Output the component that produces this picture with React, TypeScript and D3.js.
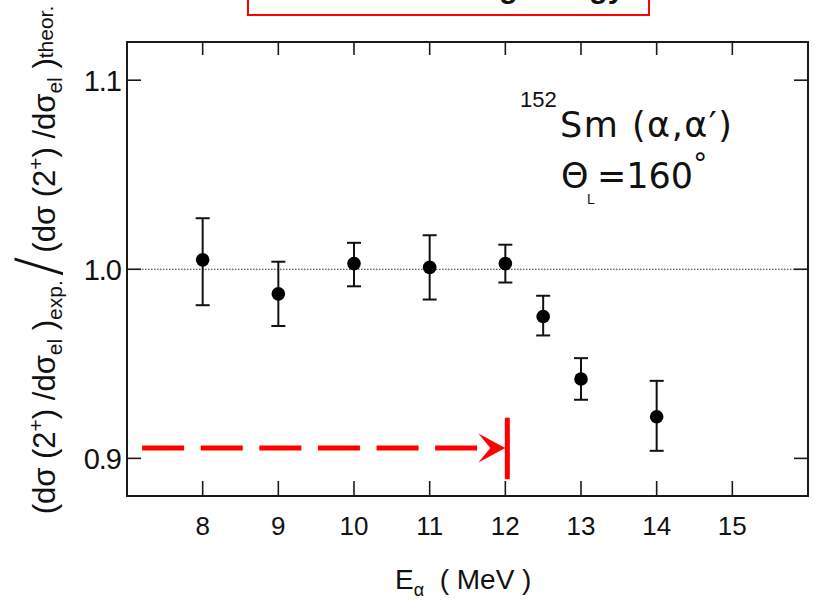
import React from "react";
import * as d3 from "d3";

// ---- data ----
const energies = [8, 9, 10, 11, 12, 12.5, 13, 14];
const ratios = [1.005, 0.987, 1.003, 1.001, 1.003, 0.975, 0.942, 0.922];
const errUp = [0.022, 0.017, 0.011, 0.017, 0.010, 0.011, 0.011, 0.019];
const errDown = [0.024, 0.017, 0.012, 0.017, 0.010, 0.010, 0.011, 0.018];

const xTicks = [8, 9, 10, 11, 12, 13, 14, 15];
const yTicks = [0.9, 1.0, 1.1];
const yTickLabels = ["0.9", "1.0", "1.1"];

// annotation (red arrow towards 12 MeV)
const arrowFrom = 7.2;
const arrowTo = 12;
const arrowLevel = 0.9055;
const barLow = 0.889;
const barHigh = 0.9215;

const W = 819;
const H = 600;
const left = 127;
const right = 808;
const top = 42;
const bottom = 496;

const x = d3.scaleLinear().domain([7, 16]).range([left, right]);
const y = d3.scaleLinear().domain([0.8801, 1.1202]).range([bottom, top]);

const FONT = "'Liberation Sans', Arial, Helvetica, sans-serif";
const WIDE = "'DejaVu Sans', Verdana, sans-serif";

export default function App() {
  const pts = energies.map((e, i) => ({
    e,
    v: ratios[i],
    hi: ratios[i] + errUp[i],
    lo: ratios[i] - errDown[i],
  }));
  const capW = 7;
  const ay = y(arrowLevel);
  const tipX = x(arrowTo);
  const headLen = 27;
  const headHalf = 14.5;
  const arrowHead = [
    [tipX, ay],
    [tipX - headLen, ay - headHalf],
    [tipX - headLen + 12, ay],
    [tipX - headLen, ay + headHalf],
  ];

  return (
    <svg
      width={W}
      height={H}
      viewBox={`0 0 ${W} ${H}`}
      style={{ position: "absolute", left: 0, top: 0, background: "#fff" }}
      fontFamily={FONT}
    >
      <rect x={0} y={0} width={W} height={H} fill="#fff" />

      {/* top red box with cut-off title */}
      <rect x={248} y={-12} width={401} height={27} fill="#fff" stroke="#f00" strokeWidth={2} />
      <text x={448.5} y={-2} textAnchor="middle" fontSize={30} fontWeight="bold" fill="#111">
        Safe bombarding energy
      </text>

      {/* reference line at 1.0 */}
      <line
        x1={left}
        x2={right}
        y1={y(1.0)}
        y2={y(1.0)}
        stroke="#333"
        strokeWidth={1}
        strokeDasharray="1.5 1.5"
      />

      {/* frame */}
      <rect
        x={left}
        y={top}
        width={right - left}
        height={bottom - top}
        fill="none"
        stroke="#1a1a1a"
        strokeWidth={2}
      />

      {/* x ticks (bottom and top, inward) */}
      {xTicks.map((t) => (
        <g key={"xt" + t}>
          <line x1={x(t)} x2={x(t)} y1={bottom} y2={bottom - 15} stroke="#1a1a1a" strokeWidth={1.6} />
          <line x1={x(t)} x2={x(t)} y1={top} y2={top + 13} stroke="#1a1a1a" strokeWidth={1.6} />
          <text x={x(t)} y={535} textAnchor="middle" fontSize={26} fill="#111">
            {t}
          </text>
        </g>
      ))}

      {/* y ticks (left and right, inward) */}
      {yTicks.map((t, i) => (
        <g key={"yt" + t}>
          <line x1={left} x2={left + 14} y1={y(t)} y2={y(t)} stroke="#1a1a1a" strokeWidth={1.6} />
          <line x1={right} x2={right - 14} y1={y(t)} y2={y(t)} stroke="#1a1a1a" strokeWidth={1.6} />
          <text x={121} y={y(t)} dy="0.36em" textAnchor="end" fontSize={29} fill="#111" letterSpacing={-1}>
            {yTickLabels[i]}
          </text>
        </g>
      ))}

      {/* error bars and points */}
      {pts.map((p) => (
        <g key={"p" + p.e}>
          <line x1={x(p.e)} x2={x(p.e)} y1={y(p.hi)} y2={y(p.lo)} stroke="#111" strokeWidth={2} />
          <line x1={x(p.e) - capW} x2={x(p.e) + capW} y1={y(p.hi)} y2={y(p.hi)} stroke="#111" strokeWidth={2} />
          <line x1={x(p.e) - capW} x2={x(p.e) + capW} y1={y(p.lo)} y2={y(p.lo)} stroke="#111" strokeWidth={2} />
          <circle cx={x(p.e)} cy={y(p.v)} r={6.8} fill="#000" />
        </g>
      ))}

      {/* red dashed arrow and bar */}
      <line
        x1={x(arrowFrom)}
        x2={tipX - headLen + 1}
        y1={ay}
        y2={ay}
        stroke="#f00"
        strokeWidth={5}
        strokeDasharray="42 16.6"
      />
      <polygon points={arrowHead.map((d) => d.join(",")).join(" ")} fill="#f00" />
      <line x1={tipX + 2} x2={tipX + 2} y1={y(barHigh)} y2={y(barLow)} stroke="#f00" strokeWidth={5} />

      {/* reaction annotation */}
      <text x={520} y={107} fontSize={22} fill="#111" fontFamily={FONT}>152</text>
      <text x={560} y={137} fontSize={35} fill="#111" fontFamily={WIDE} letterSpacing={1.5}>
        Sm (α,α′)
      </text>
      <text x={561} y={188} fontSize={35} fill="#111" fontFamily={WIDE}>Θ</text>
      <text x={587} y={204} fontSize={14} fill="#111" fontFamily={FONT}>L</text>
      <text x={597} y={188} fontSize={35} fill="#111" fontFamily={WIDE}>
        <tspan>=160</tspan>
        <tspan fontSize={28} dy={-15}>°</tspan>
      </text>

      {/* x axis title */}
      <text x={395} y={589} fontSize={28} fill="#111">
        <tspan>E</tspan>
        <tspan fontSize={18} dy={7}>α</tspan>
        <tspan dy={-7}>{"\u00a0\u00a0( MeV )"}</tspan>
      </text>

      {/* y axis title (rotated) */}
      <g transform="translate(55,260) rotate(-90)">
        <text x={0} y={0} textAnchor="middle" fontSize={31} fill="#111">
          <tspan>(dσ (2</tspan>
          <tspan fontSize={21} dy={-12}>+</tspan>
          <tspan dy={12}>) /dσ</tspan>
          <tspan fontSize={21} dy={7}>el</tspan>
          <tspan dy={-7}> )</tspan>
          <tspan fontSize={21} dy={7}>exp.</tspan>
          <tspan fontSize={58} dy={-4} dx={4} fontFamily={WIDE} fontWeight={200}>/</tspan>
          <tspan dy={-3} dx={4}>(dσ (2</tspan>
          <tspan fontSize={21} dy={-12}>+</tspan>
          <tspan dy={12}>) /dσ</tspan>
          <tspan fontSize={21} dy={7}>el</tspan>
          <tspan dy={-7}> )</tspan>
          <tspan fontSize={21} dy={-2}>theor.</tspan>
        </text>
      </g>
    </svg>
  );
}
